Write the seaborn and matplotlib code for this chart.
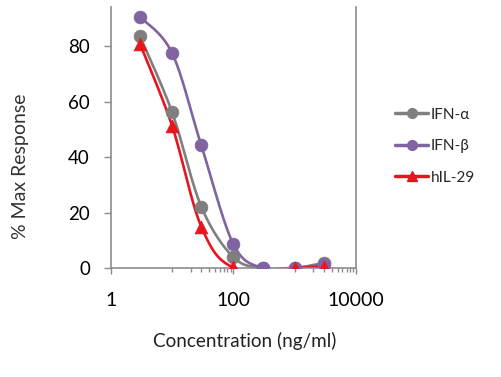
import numpy as np
import pandas as pd
import seaborn as sns
import matplotlib.pyplot as plt
from matplotlib.lines import Line2D
from matplotlib.ticker import FixedLocator, FixedFormatter, NullFormatter

conc = [3, 10, 30, 100, 300, 1000, 3000]
ifn_alpha = [83.5, 56.2, 22.1, 3.9, 0.0, 0.0, 1.9]
ifn_beta = [90.5, 77.5, 44.2, 8.6, 0.0, 0.0, 1.4]
conc_il29 = [3, 10, 30, 100, 1000, 3000]
hil29 = [80.8, 51.3, 14.9, 0.2, 0.1, 0.5]

series_names = ["IFN-\u03b1", "IFN-\u03b2", "hIL-29"]
colors = ["#7f7f7f", "#8064a2", "#e8141e"]
markers = ["o", "o", "^"]


def smooth(xs, ys, n=40):
    # excel-style smoothed line (bezier through the points, in log-x space)
    p = np.column_stack([np.log10(xs), ys])
    out = [p[0]]
    for i in range(len(p) - 1):
        a = p[i - 1] if i > 0 else p[i]
        d = p[i + 2] if i + 2 < len(p) else p[i + 1]
        b0, b3 = p[i], p[i + 1]
        b1 = b0 + (b3 - a) / 6
        b2 = b3 - (d - b0) / 6
        t = np.linspace(0, 1, n)[1:, None]
        seg = (1 - t) ** 3 * b0 + 3 * (1 - t) ** 2 * t * b1 + 3 * (1 - t) * t ** 2 * b2 + t ** 3 * b3
        out.extend(seg)
    out = np.array(out)
    return 10 ** out[:, 0], out[:, 1]


df = pd.concat([
    pd.DataFrame({"conc": conc, "resp": ifn_alpha, "series": series_names[0]}),
    pd.DataFrame({"conc": conc, "resp": ifn_beta, "series": series_names[1]}),
    pd.DataFrame({"conc": conc_il29, "resp": hil29, "series": series_names[2]}),
])

sns.set_theme(style="white")
plt.rcParams["font.family"] = ["Lato", "DejaVu Sans"]

fig = plt.figure(figsize=(5.01, 3.77), dpi=100)
ax = fig.add_axes([0.221, 0.289, 0.4896, 0.692])

for name, color, marker in zip(series_names, colors, markers):
    sub = df[df["series"] == name]
    sx, sy = smooth(sub["conc"].values, sub["resp"].values)
    ax.plot(sx, sy, color=color, linewidth=1.9, zorder=2)
    sns.scatterplot(data=sub, x="conc", y="resp", color=color, marker=marker,
                    s=85, edgecolor=color, linewidth=0.5, ax=ax, zorder=3, legend=False)

ax.set_xscale("log")
ax.set_xlim(1, 10000)
ax.set_ylim(0, 94)

ax.xaxis.set_major_locator(FixedLocator([1, 100, 10000]))
ax.xaxis.set_major_formatter(FixedFormatter(["1", "100", "10000"]))
minor = [10] + list(range(20, 100, 10)) + [1000] + list(range(2000, 10000, 1000))
ax.xaxis.set_minor_locator(FixedLocator(minor))
ax.xaxis.set_minor_formatter(NullFormatter())
ax.set_yticks([0, 20, 40, 60, 80])

ax.tick_params(axis="x", which="major", bottom=True, direction="out", length=4.5, width=1,
               color="#8c8c8c", labelsize=14, labelcolor="black", pad=13)
ax.tick_params(axis="x", which="minor", bottom=True, direction="out", length=3, width=1,
               color="#8c8c8c")
ax.tick_params(axis="y", which="major", left=True, direction="out", length=5, width=1,
               color="#8c8c8c", labelsize=13.5, labelcolor="black", pad=10)

for side in ["left", "right", "bottom"]:
    ax.spines[side].set_color("#8c8c8c")
    ax.spines[side].set_linewidth(1.2)
ax.spines["top"].set_visible(False)

ax.set_xlabel("Concentration (ng/ml)", fontsize=13.6, color="#222222")
ax.set_ylabel("% Max Response", fontsize=14, color="#333333")
ax.xaxis.set_label_coords(0.546, -0.246)
ax.yaxis.set_label_coords(-0.333, 0.389)

handles = [Line2D([0], [0], color=c, marker=m, markersize=7, linewidth=2.5)
           for c, m in zip(colors, markers)]
ax.legend(handles, series_names, loc="center left", bbox_to_anchor=(1.159, 0.467),
          frameon=False, fontsize=11, handlelength=2.16, handletextpad=0.2,
          labelspacing=1.15, borderpad=0, borderaxespad=0)

fig.savefig("out.png", dpi=100)
